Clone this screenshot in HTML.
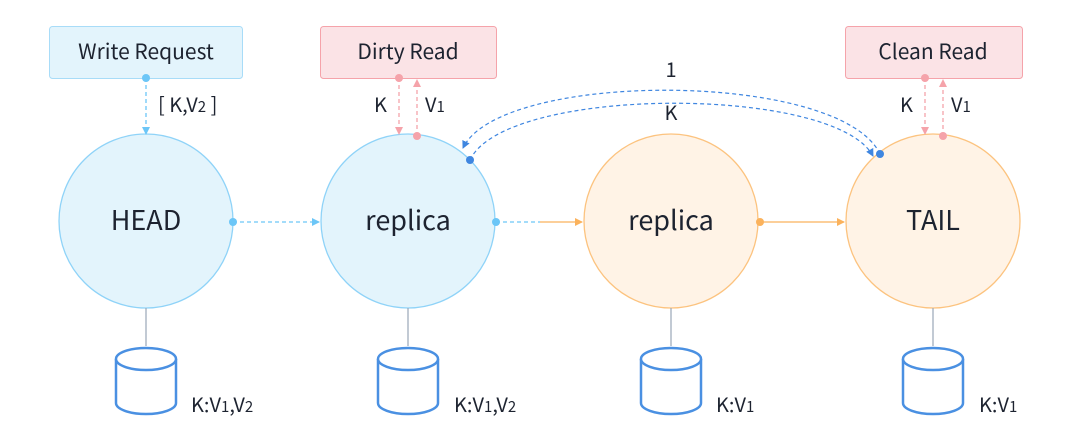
<!DOCTYPE html>
<html><head><meta charset="utf-8"><style>
html,body{margin:0;padding:0;background:#fff;}
svg{display:block;}
text{font-family:"Noto Sans CJK SC","Liberation Sans",sans-serif;fill:#1d2330;}
</style></head><body>
<svg width="1080" height="442" viewBox="0 0 1080 442" xmlns="http://www.w3.org/2000/svg">
<defs>
<marker id="ab" markerWidth="8" markerHeight="8" refX="7" refY="4" orient="auto" markerUnits="userSpaceOnUse"><path d="M0,0 L8,4 L0,8 z" fill="#6cc6f7"/></marker>
<marker id="ap" markerWidth="8" markerHeight="8" refX="7" refY="4" orient="auto" markerUnits="userSpaceOnUse"><path d="M0,0 L8,4 L0,8 z" fill="#f5a3aa"/></marker>
<marker id="ao" markerWidth="8" markerHeight="8" refX="7" refY="4" orient="auto" markerUnits="userSpaceOnUse"><path d="M0,0 L8,4 L0,8 z" fill="#fbb25c"/></marker>
<marker id="ad" markerWidth="8" markerHeight="8" refX="7" refY="4" orient="auto" markerUnits="userSpaceOnUse"><path d="M0,0 L8,4 L0,8 z" fill="#3f86e0"/></marker>
</defs>
<!-- boxes -->
<rect x="49.5" y="26.5" width="193" height="52" rx="3" fill="#e3f4fc" stroke="#a8dcf8"/>
<text x="146" y="59" font-size="21" text-anchor="middle">Write Request</text>
<rect x="320.5" y="26.5" width="176" height="52" rx="3" fill="#fbe3e6" stroke="#f5a3aa"/>
<text x="408" y="59" font-size="21" text-anchor="middle">Dirty Read</text>
<rect x="845.5" y="26.5" width="177" height="52" rx="3" fill="#fbe3e6" stroke="#f5a3aa"/>
<text x="933" y="59" font-size="21" text-anchor="middle">Clean Read</text>
<!-- circles -->
<circle cx="146" cy="221" r="87" fill="#e3f4fc" stroke="#8fd3f8" stroke-width="1.3"/>
<circle cx="408" cy="221" r="87" fill="#e3f4fc" stroke="#8fd3f8" stroke-width="1.3"/>
<circle cx="671" cy="221" r="87" fill="#fff3e6" stroke="#fcc37f" stroke-width="1.3"/>
<circle cx="933" cy="221" r="87" fill="#fff3e6" stroke="#fcc37f" stroke-width="1.3"/>
<text x="146" y="230" font-size="27" text-anchor="middle">HEAD</text>
<text x="408" y="230" font-size="27" text-anchor="middle">replica</text>
<text x="671" y="230" font-size="27" text-anchor="middle">replica</text>
<text x="933" y="230" font-size="27" text-anchor="middle">TAIL</text>
<!-- write request arrow -->
<line x1="146" y1="78" x2="146" y2="134" stroke="#6cc6f7" stroke-width="1.3" stroke-dasharray="4,3" marker-end="url(#ab)"/>
<circle cx="146" cy="78" r="4" fill="#6cc6f7"/>
<text x="158" y="112" font-size="20">[ K,V<tspan font-size="15">2</tspan> ]</text>
<!-- dirty read -->
<line x1="399" y1="78" x2="399" y2="134" stroke="#f5a3aa" stroke-width="1.3" stroke-dasharray="4,3" marker-end="url(#ap)"/>
<circle cx="399" cy="78" r="4" fill="#f5a3aa"/>
<line x1="417" y1="136" x2="417" y2="80" stroke="#f5a3aa" stroke-width="1.3" stroke-dasharray="4,3" marker-end="url(#ap)"/>
<circle cx="417" cy="136" r="4" fill="#f5a3aa"/>
<text x="374" y="112" font-size="20">K</text>
<text x="425" y="112" font-size="20">V<tspan font-size="15">1</tspan></text>
<!-- clean read -->
<line x1="925" y1="78" x2="925" y2="134" stroke="#f5a3aa" stroke-width="1.3" stroke-dasharray="4,3" marker-end="url(#ap)"/>
<circle cx="925" cy="78" r="4" fill="#f5a3aa"/>
<line x1="943" y1="136" x2="943" y2="80" stroke="#f5a3aa" stroke-width="1.3" stroke-dasharray="4,3" marker-end="url(#ap)"/>
<circle cx="943" cy="136" r="4" fill="#f5a3aa"/>
<text x="900" y="112" font-size="20">K</text>
<text x="951" y="112" font-size="20">V<tspan font-size="15">1</tspan></text>
<!-- horizontal links -->
<line x1="233" y1="222" x2="319" y2="222" stroke="#6cc6f7" stroke-width="1.3" stroke-dasharray="4,3" marker-end="url(#ab)"/>
<circle cx="233" cy="222" r="4" fill="#6cc6f7"/>
<line x1="496" y1="222" x2="540" y2="222" stroke="#6cc6f7" stroke-width="1.3" stroke-dasharray="4,3"/>
<line x1="540" y1="222" x2="582" y2="222" stroke="#fbb25c" stroke-width="1.3" marker-end="url(#ao)"/>
<circle cx="496" cy="222" r="4" fill="#6cc6f7"/>
<line x1="760" y1="222" x2="844" y2="222" stroke="#fbb25c" stroke-width="1.3" marker-end="url(#ao)"/>
<circle cx="760" cy="222" r="4" fill="#fbb25c"/>
<!-- arcs -->
<path d="M880,154 C840,70 500,70 463,148" fill="none" stroke="#3f86e0" stroke-width="1.2" stroke-dasharray="4,3" marker-end="url(#ad)"/>
<path d="M470,160 C505,85 835,85 873,156" fill="none" stroke="#3f86e0" stroke-width="1.2" stroke-dasharray="4,3" marker-end="url(#ad)"/>
<circle cx="880" cy="154" r="4" fill="#3f86e0"/>
<circle cx="470" cy="160" r="4" fill="#3f86e0"/>
<text x="671" y="77" font-size="20" text-anchor="middle">1</text>
<text x="671" y="120" font-size="20" text-anchor="middle">K</text>
<g stroke="#9aa6b8" stroke-width="1.2">
<line x1="146" y1="308" x2="146" y2="346"/>
<line x1="408" y1="308" x2="408" y2="346"/>
<line x1="671" y1="308" x2="671" y2="346"/>
<line x1="933" y1="308" x2="933" y2="346"/>
</g>
<g fill="#fff" stroke="#4a90e2" stroke-width="2.5">
<path d="M116,359 L116,403 A30,11 0 0 0 176,403 L176,359"/><ellipse cx="146" cy="359" rx="30" ry="11"/>
<path d="M378,359 L378,403 A30,11 0 0 0 438,403 L438,359"/><ellipse cx="408" cy="359" rx="30" ry="11"/>
<path d="M641,359 L641,403 A30,11 0 0 0 701,403 L701,359"/><ellipse cx="671" cy="359" rx="30" ry="11"/>
<path d="M903,359 L903,403 A30,11 0 0 0 963,403 L963,359"/><ellipse cx="933" cy="359" rx="30" ry="11"/>
</g>
<text x="191" y="412" font-size="20">K:V<tspan font-size="15">1</tspan>,V<tspan font-size="15">2</tspan></text>
<text x="454" y="412" font-size="20">K:V<tspan font-size="15">1</tspan>,V<tspan font-size="15">2</tspan></text>
<text x="716" y="412" font-size="20">K:V<tspan font-size="15">1</tspan></text>
<text x="979" y="412" font-size="20">K:V<tspan font-size="15">1</tspan></text>
</svg>
</body></html>
